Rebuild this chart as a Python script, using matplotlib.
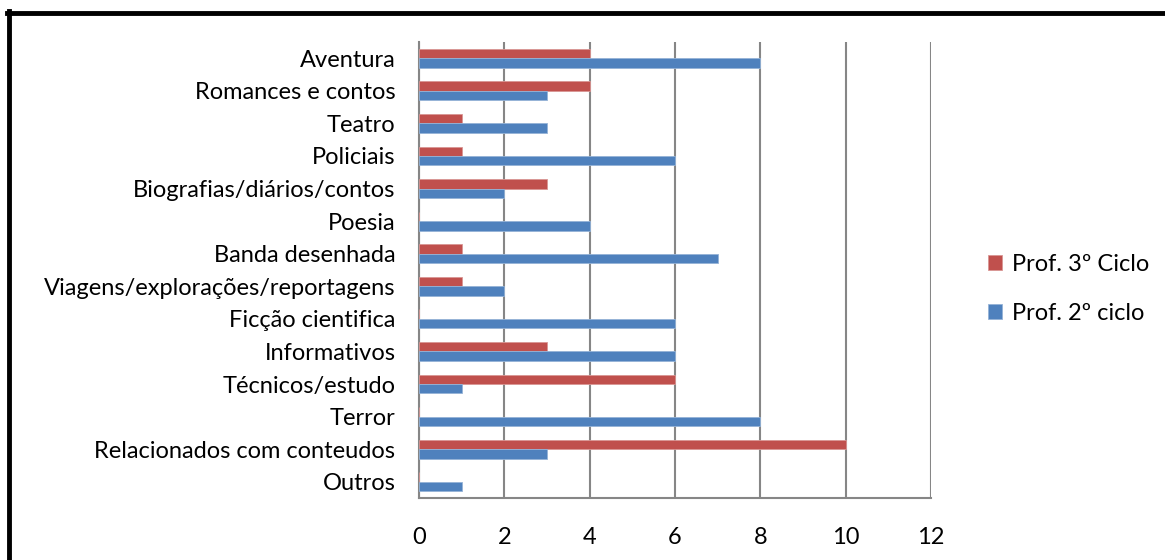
import numpy as np
import matplotlib.pyplot as plt
from matplotlib.lines import Line2D

categorias = ['Aventura', 'Romances e contos', 'Teatro', 'Policiais',
              'Biografias/diários/contos', 'Poesia', 'Banda desenhada',
              'Viagens/explorações/reportagens', 'Ficção cientifica',
              'Informativos', 'Técnicos/estudo', 'Terror',
              'Relacionados com conteudos', 'Outros']
prof_3ciclo = [4, 4, 1, 1, 3, 0, 1, 1, 0, 3, 6, 0, 10, 0]
prof_2ciclo = [8, 3, 3, 6, 2, 4, 7, 2, 6, 6, 1, 8, 3, 1]
xticks = [0, 2, 4, 6, 8, 10, 12]

plt.rcParams['font.family'] = ['Lato', 'DejaVu Sans']

fig = plt.figure(figsize=(11.65, 5.6), dpi=100)
ax = fig.add_axes([419/1165, 1-498/560, 512/1165, 456/560])

n = len(categorias)
y = np.arange(n)[::-1]
h = 0.29
ax.barh(y + h/2, prof_3ciclo, height=h, color='#C0504D', edgecolor='#D99694',
        linewidth=0.6, label='Prof. 3º Ciclo', zorder=3)
ax.barh(y - h/2, prof_2ciclo, height=h, color='#4F81BD', edgecolor='#95B3D7',
        linewidth=0.6, label='Prof. 2º ciclo', zorder=3)

ax.set_xlim(0, 12)
ax.set_ylim(-0.5, n - 0.5)
ax.set_xticks(xticks)
ax.set_yticks(y)
ax.set_yticklabels(categorias)
ax.tick_params(axis='both', length=0, labelsize=17, labelcolor='black')
ax.tick_params(axis='x', pad=21)
ax.tick_params(axis='y', pad=17)
ax.grid(axis='x', color='#868686', linewidth=1.5, zorder=0)
for s in ['top', 'right']:
    ax.spines[s].set_visible(False)
for s in ['left', 'bottom']:
    ax.spines[s].set_color('#868686')
    ax.spines[s].set_linewidth(1.5)

handles, labels = ax.get_legend_handles_labels()
fig.legend(handles, labels, loc='center left', bbox_to_anchor=(988/1165, 1-289/560),
           frameon=False, fontsize=17, borderpad=0, borderaxespad=0,
           handlelength=0.6, handleheight=0.6, handletextpad=0.4, labelspacing=1.2)

# moldura
fig.add_artist(Line2D([9/1165, 9/1165], [0, 1-11/560], color='black', linewidth=3.5))
fig.add_artist(Line2D([7/1165, 1], [1-12.5/560, 1-12.5/560], color='black', linewidth=3.5))

fig.savefig('out.png', dpi=100)
